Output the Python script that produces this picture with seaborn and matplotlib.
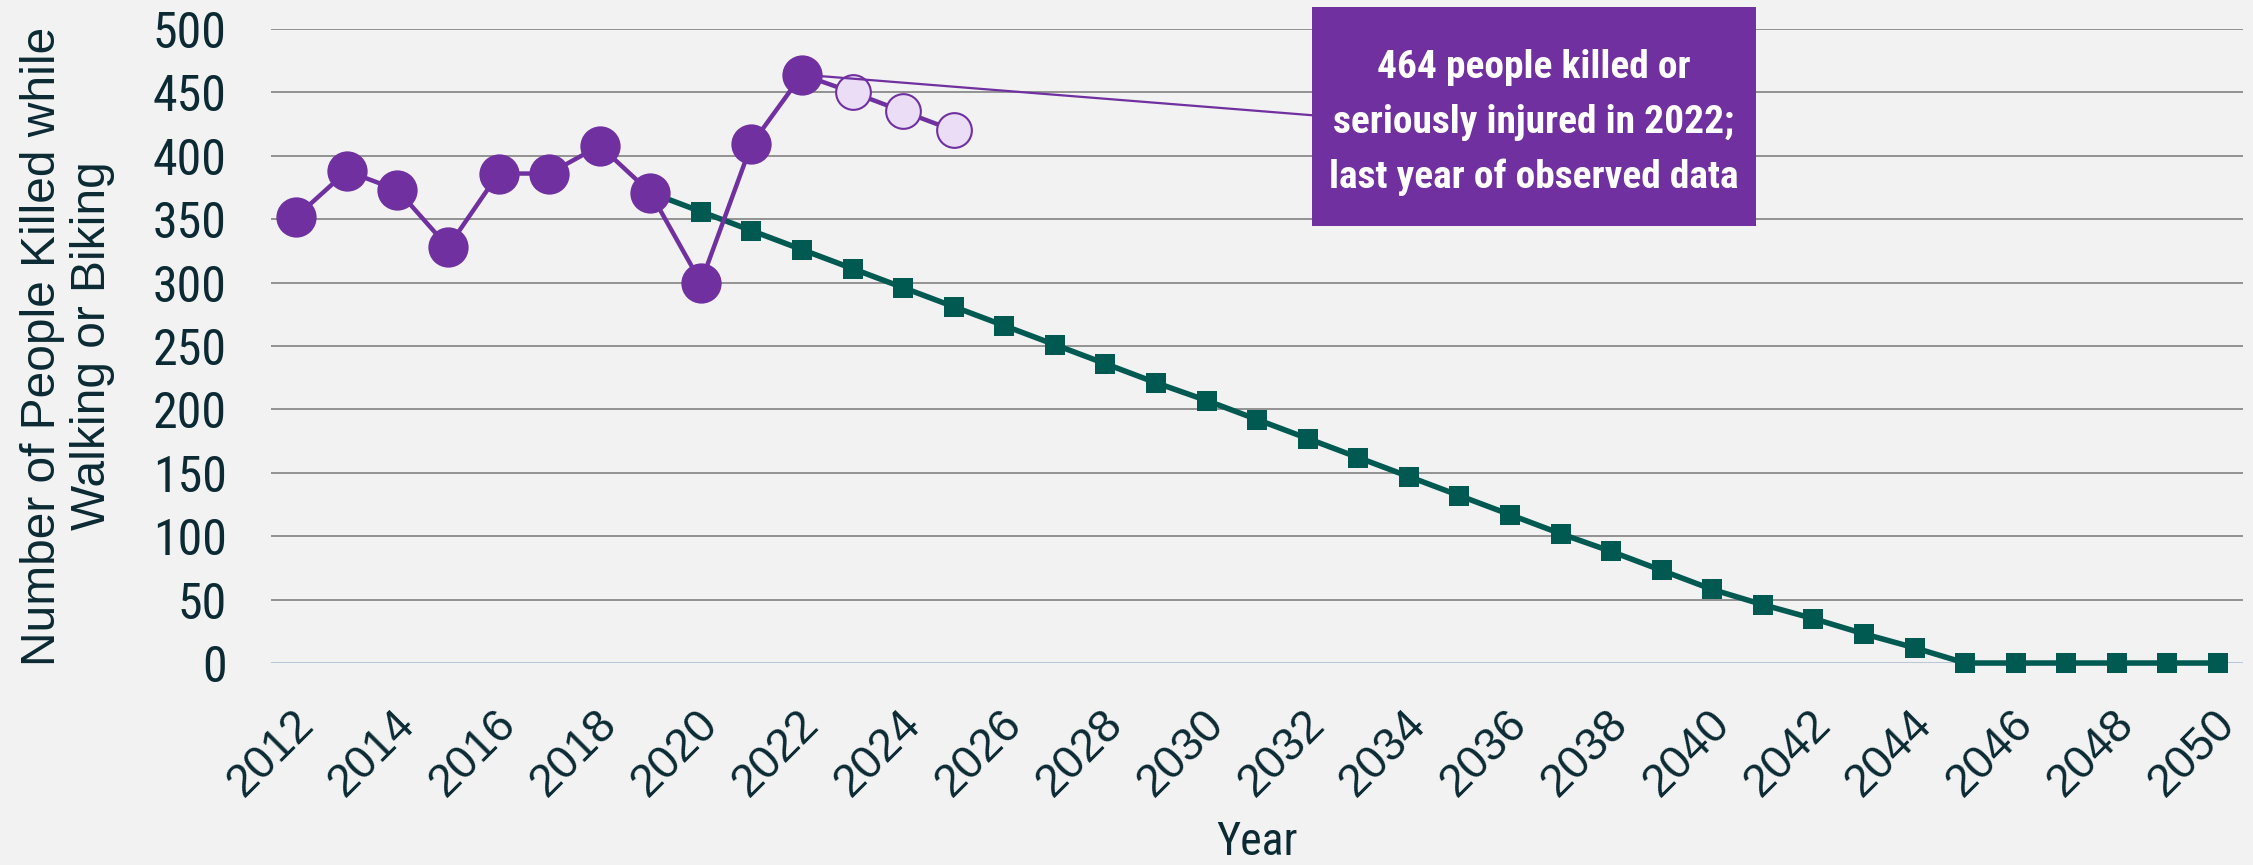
import numpy as np
import pandas as pd
import matplotlib
matplotlib.use("Agg")
import matplotlib.pyplot as plt
import matplotlib.patches as patches
from matplotlib import font_manager as fm
from matplotlib.transforms import ScaledTranslation
import seaborn as sns

# observed KSI counts
obs_years = [2012, 2013, 2014, 2015, 2016, 2017, 2018, 2019, 2020, 2021, 2022]
obs_vals = [352, 388, 373, 328, 386, 386, 408, 371, 300, 409, 464]

# short-term projection after last observed year
proj_years = [2022, 2023, 2024, 2025]
proj_vals = [464, 450, 435, 420]

# target trajectory to zero
target_years = list(range(2019, 2051))
target_vals = [371, 356, 341, 326, 311, 296, 281, 266, 251, 236, 221, 207, 192,
               177, 162, 147, 132, 117, 102, 88, 73, 58, 46, 35, 23, 12,
               0, 0, 0, 0, 0, 0]

x_ticks = list(range(2012, 2051, 2))
y_ticks = [0, 50, 100, 150, 200, 250, 300, 350, 400, 450, 500]

note_lines = ["464 people killed or", "seriously injured in 2022;", "last year of observed data"]

PURPLE = "#7030A0"
LIGHT_PURPLE = "#EBDDF5"
GREEN = "#005A52"
TEXT = "#0B2A33"
BG = "#F2F2F2"

sns.set_style("white", {"axes.facecolor": BG, "figure.facecolor": BG})
names = {f.name for f in fm.fontManager.ttflist}
narrow = "Liberation Sans"
for cand in ["Liberation Sans Narrow", "Arial Narrow", "Roboto Condensed", "Open Sans Condensed"]:
    if cand in names:
        narrow = cand
        break
plt.rcParams["font.family"] = ["Liberation Sans", "DejaVu Sans"]

obs = pd.DataFrame({"Year": obs_years, "Value": obs_vals})
proj = pd.DataFrame({"Year": proj_years, "Value": proj_vals})
target = pd.DataFrame({"Year": target_years, "Value": target_vals})

fig = plt.figure(figsize=(22.53, 8.65), dpi=100)
ax = fig.add_axes([0.1203, 0.2335, 0.8754, 0.733])

sns.lineplot(data=target, x="Year", y="Value", ax=ax, color=GREEN, linewidth=4,
             marker="s", markersize=15, markeredgewidth=0, markevery=slice(1, None), zorder=3)
sns.lineplot(data=proj, x="Year", y="Value", ax=ax, color=PURPLE, linewidth=3.2,
             marker="o", markersize=25, markerfacecolor=LIGHT_PURPLE,
             markeredgecolor=PURPLE, markeredgewidth=1.5, zorder=4)
sns.lineplot(data=obs, x="Year", y="Value", ax=ax, color=PURPLE, linewidth=3.2,
             marker="o", markersize=29, markeredgewidth=0, zorder=5)
for ln in ax.lines:
    ln.set_clip_on(False)

ax.set_xlim(2011.5, 2050.5)
ax.set_ylim(0, 500)
ax.set_xticks(x_ticks)
ax.set_yticks(y_ticks)
ax.set_xticklabels([str(t) for t in x_ticks], rotation=45, ha="right", va="top",
                   rotation_mode="anchor", fontsize=33, color=TEXT, family="Liberation Sans")
ax.set_yticklabels([str(t) for t in y_ticks], fontsize=36, color=TEXT, family=narrow)
ax.tick_params(axis="both", length=0)
ax.tick_params(axis="x", pad=28)
ax.tick_params(axis="y", pad=32)
for lab in ax.get_xticklabels():
    lab.set_transform(lab.get_transform() + ScaledTranslation(-0.05, 0, fig.dpi_scale_trans))

for s in ax.spines.values():
    s.set_visible(False)
ax.yaxis.grid(True, color="#8A8A8A", linewidth=1.3)
ax.xaxis.grid(False)
ax.set_axisbelow(True)
ax.axhline(0, color="#C6D9F1", linewidth=1.8, zorder=1)

ax.set_ylabel("Number of People Killed while\nWalking or Biking", fontsize=34.5, color=TEXT,
              linespacing=1.15)
ax.yaxis.set_label_coords(-0.079, 0.5)
ax.set_xlabel("Year", fontsize=33, color=TEXT, family=narrow)
ax.xaxis.set_label_coords(0.5, -0.248)

# callout box
box_x0, box_w = 2032.08, 8.79
box_y0, box_h = 344.6, 172.7
box = patches.Rectangle((box_x0, box_y0), box_w, box_h, transform=ax.transData,
                        facecolor=PURPLE, edgecolor="none", clip_on=False, zorder=6)
ax.add_patch(box)
baselines = [461.4, 418.0, 374.6]
texts = [ax.text(box_x0 + box_w / 2, yb, line, ha="center", va="baseline",
                 fontsize=34, fontweight="bold", color="white", family=narrow, zorder=7)
         for line, yb in zip(note_lines, baselines)]
# shrink the callout text so it sits inside the box like the original
fig.canvas.draw()
text_w = max(t.get_window_extent().width for t in texts)
max_w = 0.92 * box_w / (2050.5 - 2011.5) * ax.get_window_extent().width
if text_w > max_w:
    for t in texts:
        t.set_fontsize(34 * max_w / text_w)

ax.annotate("", xy=(obs_years[-1], obs_vals[-1]), xytext=(box_x0, 432),
            arrowprops=dict(arrowstyle="-", color=PURPLE, linewidth=1.6,
                            shrinkA=0, shrinkB=0), zorder=4)

fig.savefig("out.png", dpi=100, facecolor=BG)
